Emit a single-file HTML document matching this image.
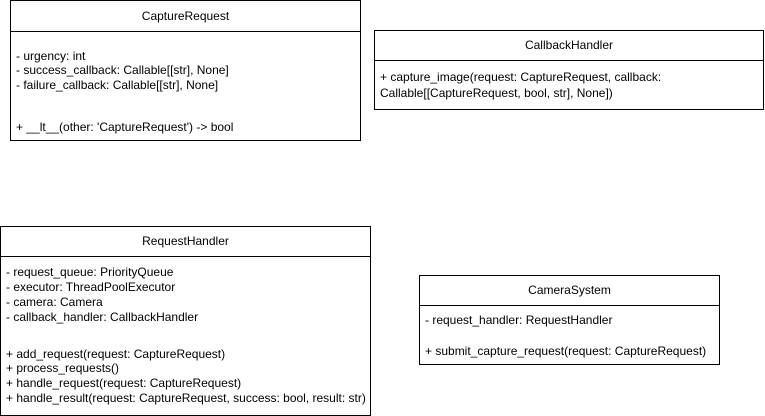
<!DOCTYPE html>
<html><head><meta charset="utf-8"><style>
html,body{margin:0;padding:0;background:#fff;}
svg{display:block;}
text{font-family:"Liberation Sans",Arial,sans-serif;font-size:12px;fill:#000;}
</style></head><body>
<svg width="765" height="416" viewBox="0 0 765 416" xmlns="http://www.w3.org/2000/svg">
<g fill="#fff" stroke="#000" stroke-width="1">
<rect x="10.5" y="0.5" width="350" height="140"/>
<line x1="10.5" y1="31.5" x2="360.5" y2="31.5"/>
<rect x="374.5" y="30.5" width="389" height="79"/>
<line x1="374.5" y1="60.5" x2="763.5" y2="60.5"/>
<rect x="0.5" y="226.5" width="370" height="189"/>
<line x1="0.5" y1="256.5" x2="370.5" y2="256.5"/>
<rect x="419.5" y="275.5" width="300" height="89"/>
<line x1="419.5" y1="305.5" x2="719.5" y2="305.5"/>
</g>
<text x="185.5" y="20" text-anchor="middle">CaptureRequest</text>
<text x="16" y="60">- urgency: int</text>
<text x="16" y="74">- success_callback: Callable[[str], None]</text>
<text x="16" y="89">- failure_callback: Callable[[str], None]</text>
<text x="16" y="131">+ __lt__(other: 'CaptureRequest') -&gt; bool</text>

<text x="569" y="49" text-anchor="middle">CallbackHandler</text>
<text x="380" y="81">+ capture_image(request: CaptureRequest, callback:</text>
<text x="380" y="97">Callable[[CaptureRequest, bool, str], None])</text>

<text x="185.5" y="245" text-anchor="middle">RequestHandler</text>
<text x="6" y="276">- request_queue: PriorityQueue</text>
<text x="6" y="291">- executor: ThreadPoolExecutor</text>
<text x="6" y="306">- camera: Camera</text>
<text x="6" y="321">- callback_handler: CallbackHandler</text>
<text x="6" y="358">+ add_request(request: CaptureRequest)</text>
<text x="6" y="372">+ process_requests()</text>
<text x="6" y="387">+ handle_request(request: CaptureRequest)</text>
<text x="6" y="402">+ handle_result(request: CaptureRequest, success: bool, result: str)</text>

<text x="569.5" y="294" text-anchor="middle">CameraSystem</text>
<text x="425" y="324">- request_handler: RequestHandler</text>
<text x="425" y="355">+ submit_capture_request(request: CaptureRequest)</text>
</svg>
</body></html>
